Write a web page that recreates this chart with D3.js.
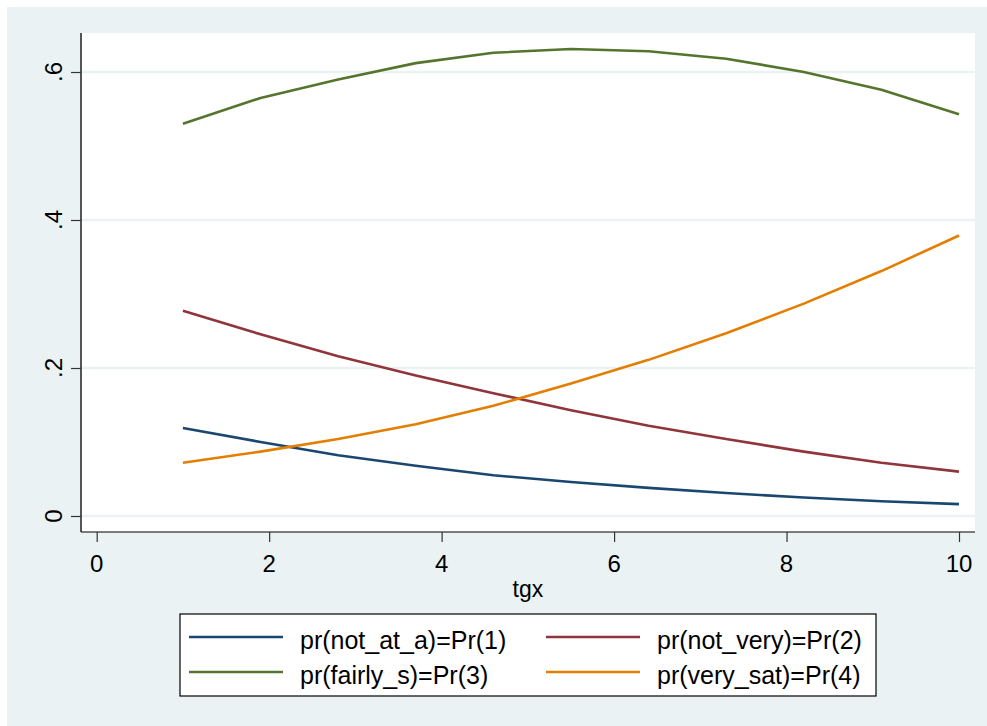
<!DOCTYPE html>
<html>
<head>
<meta charset="utf-8">
<script src="https://cdn.jsdelivr.net/npm/d3@7"></script>
<style>
  body { margin: 0; background: #fff; }
  svg { display: block; font-family: "Liberation Sans", Arial, sans-serif; }
</style>
</head>
<body>
<svg id="chart" width="987" height="726"></svg>
<script>
// tgx values where the predicted probabilities were evaluated
const tgx = [1, 1.9, 2.8, 3.7, 4.6, 5.5, 6.4, 7.3, 8.2, 9.1, 10];

const prNotAtA = [0.119, 0.100, 0.082, 0.068, 0.055, 0.046, 0.038, 0.031, 0.025, 0.020, 0.016];
const prNotVery = [0.2775, 0.2455, 0.216, 0.190, 0.166, 0.143, 0.122, 0.104, 0.087, 0.072, 0.060];
const prFairlyS = [0.530, 0.565, 0.590, 0.612, 0.626, 0.631, 0.628, 0.618, 0.600, 0.576, 0.543];
const prVerySat = [0.072, 0.087, 0.104, 0.124, 0.149, 0.179, 0.211, 0.247, 0.287, 0.331, 0.379];

const xTicks = [0, 2, 4, 6, 8, 10];
const yTicks = [0, 0.2, 0.4, 0.6];
const yTickLabels = ["0", ".2", ".4", ".6"];

const series = [
  { label: "pr(not_at_a)=Pr(1)", values: prNotAtA, color: "#1a476f" },
  { label: "pr(not_very)=Pr(2)", values: prNotVery, color: "#90353b" },
  { label: "pr(fairly_s)=Pr(3)", values: prFairlyS, color: "#55752f" },
  { label: "pr(very_sat)=Pr(4)", values: prVerySat, color: "#e37e00" }
];

const svg = d3.select("#chart");
const bg = "#eaf2f3";

// graph region
svg.append("rect").attr("x", 7).attr("y", 7).attr("width", 980).attr("height", 719).attr("fill", bg);

const plot = { left: 81, right: 975, top: 33, bottom: 532 };
svg.append("rect")
  .attr("x", plot.left).attr("y", plot.top)
  .attr("width", plot.right - plot.left).attr("height", plot.bottom - plot.top)
  .attr("fill", "#fff");

const x = d3.scaleLinear().domain([0, 10]).range([96.7, 959]);
const y = d3.scaleLinear().domain([0, 0.6]).range([516, 72]);

// grid lines
svg.append("g")
  .selectAll("line")
  .data(yTicks)
  .join("line")
  .attr("x1", plot.left).attr("x2", plot.right)
  .attr("y1", (d) => y(d)).attr("y2", (d) => y(d))
  .attr("stroke", bg)
  .attr("stroke-width", 2.5);

// y axis
svg.append("g")
  .attr("transform", `translate(${plot.left},0)`)
  .call(d3.axisLeft(y).tickValues(yTicks).tickSize(10).tickPadding(0).tickFormat(""))
  .call((sel) => sel.select(".domain").attr("d", `M0,${plot.top}V${plot.bottom}`).attr("stroke", "#555").attr("stroke-width", 2))
  .call((sel) => sel.selectAll(".tick line").attr("stroke", "#333").attr("stroke-width", 1.2));

svg.append("g")
  .selectAll("text")
  .data(yTicks)
  .join("text")
  .attr("transform", (d) => `translate(62,${y(d)}) rotate(-90)`)
  .attr("text-anchor", "middle")
  .attr("font-size", "24px")
  .attr("fill", "#000")
  .text((d, i) => yTickLabels[i]);

// x axis
svg.append("g")
  .attr("transform", `translate(0,${plot.bottom})`)
  .call(d3.axisBottom(x).tickValues(xTicks).tickSize(10).tickPadding(0).tickFormat(""))
  .call((sel) => sel.select(".domain").attr("d", `M${plot.left},0H${plot.right}`).attr("stroke", "#000").attr("stroke-width", 1.2))
  .call((sel) => sel.selectAll(".tick line").attr("stroke", "#333").attr("stroke-width", 1.2));

svg.append("g")
  .selectAll("text")
  .data(xTicks)
  .join("text")
  .attr("x", (d) => x(d))
  .attr("y", 572)
  .attr("text-anchor", "middle")
  .attr("font-size", "24px")
  .attr("fill", "#000")
  .text((d) => d);

svg.append("text")
  .attr("x", x(5)).attr("y", 597)
  .attr("text-anchor", "middle")
  .attr("font-size", "23px")
  .attr("fill", "#000")
  .text("tgx");

// lines
const line = d3.line()
  .x((d, i) => x(tgx[i]))
  .y((d) => y(d));

svg.append("g")
  .selectAll("path")
  .data(series)
  .join("path")
  .attr("fill", "none")
  .attr("stroke", (d) => d.color)
  .attr("stroke-width", 2.6)
  .attr("stroke-linejoin", "round")
  .attr("d", (d) => line(d.values));

// legend
svg.append("rect")
  .attr("x", 180).attr("y", 614).attr("width", 696).attr("height", 82)
  .attr("fill", "#fff").attr("stroke", "#000").attr("stroke-width", 1.2);

const colX = [189, 546];
const rowY = [637, 672];
const leg = svg.append("g")
  .selectAll("g")
  .data(series)
  .join("g")
  .attr("transform", (d, i) => `translate(${colX[i % 2]},${rowY[Math.floor(i / 2)]})`);

leg.append("line")
  .attr("x1", 0).attr("x2", 94)
  .attr("stroke", (d) => d.color)
  .attr("stroke-width", 2.6);

leg.append("text")
  .attr("x", 111).attr("y", 12)
  .attr("font-size", "25px")
  .attr("fill", "#000")
  .text((d) => d.label);
</script>
</body>
</html>
